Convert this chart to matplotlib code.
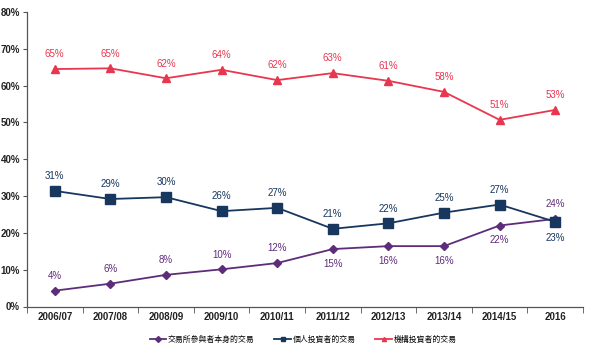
import matplotlib
matplotlib.use("Agg")
import matplotlib.pyplot as plt
from matplotlib import font_manager as fm
from matplotlib.ticker import FuncFormatter, FixedLocator

def find_font(name):
    for f in fm.findSystemFonts():
        if f.split("/")[-1] == name:
            return f
    return None

reg_path = find_font("LiberationSans-Regular.ttf")
bold_path = find_font("LiberationSans-Bold.ttf")

plt.rcParams['font.family'] = ['Liberation Sans', 'Noto Sans CJK TC', 'DejaVu Sans']

categories = ["2006/07", "2007/08", "2008/09", "2009/10", "2010/11",
              "2011/12", "2012/13", "2013/14", "2014/15", "2016"]
exchange = [4.3, 6.2, 8.6, 10.1, 11.8, 15.6, 16.4, 16.4, 22.0, 23.8]
exchange_labels = ["4%", "6%", "8%", "10%", "12%", "15%", "16%", "16%", "22%", "24%"]
retail = [31.4, 29.2, 29.7, 25.9, 26.8, 21.1, 22.6, 25.5, 27.7, 23.0]
retail_labels = ["31%", "29%", "30%", "26%", "27%", "21%", "22%", "25%", "27%", "23%"]
institutional = [64.5, 64.7, 62.0, 64.3, 61.5, 63.4, 61.3, 58.3, 50.7, 53.4]
inst_labels = ["65%", "65%", "62%", "64%", "62%", "63%", "61%", "58%", "51%", "53%"]
series_names = ["交易所參與者本身的交易", "個人投資者的交易", "機構投資者的交易"]

c_purple = "#5E2D79"
c_blue = "#17375E"
c_red = "#E8364F"

def fp(bold=False, size=7):
    path = bold_path if bold else reg_path
    if path:
        return fm.FontProperties(fname=path, size=size)
    return fm.FontProperties(family="DejaVu Sans", size=size, weight="bold" if bold else "normal")

fig = plt.figure(figsize=(5.9, 3.52), dpi=100)
ax = fig.add_axes([27/590, 1 - 306.5/352, (583-27)/590, (306.5-12)/352])

x = list(range(len(categories)))
l1, = ax.plot(x, exchange, color=c_purple, marker="D", markersize=4, lw=1.3)
l2, = ax.plot(x, retail, color=c_blue, marker="s", markersize=6.5, lw=1.3)
l3, = ax.plot(x, institutional, color=c_red, marker="^", markersize=6, lw=1.3)

fs = 7
for i in x:
    ax.annotate(inst_labels[i], (i, institutional[i]), xytext=(0, 7), textcoords="offset points",
                ha="center", va="bottom", color=c_red, fontproperties=fp(False, fs))
    if i == len(x) - 1:
        off, va = (0, -8), "top"
    else:
        off, va = (0, 7), "bottom"
    ax.annotate(retail_labels[i], (i, retail[i]), xytext=off, textcoords="offset points",
                ha="center", va=va, color=c_blue, fontproperties=fp(False, fs))
    if i <= 4 or i == len(x) - 1:
        off, va = (0, 7), "bottom"
    else:
        off, va = (0, -7), "top"
    ax.annotate(exchange_labels[i], (i, exchange[i]), xytext=off, textcoords="offset points",
                ha="center", va=va, color=c_purple, fontproperties=fp(False, fs))

ax.set_xlim(-0.5, len(x) - 0.5)
ax.set_ylim(0, 80)
ax.set_yticks(range(0, 81, 10))
ax.yaxis.set_major_formatter(FuncFormatter(lambda v, p: f"{int(v)}%"))
ax.set_xticks(x)
ax.set_xticklabels(categories)
ax.xaxis.set_minor_locator(FixedLocator([i + 0.5 for i in range(-1, len(x))]))
ax.tick_params(axis="x", which="major", length=0, pad=4)
ax.tick_params(axis="x", which="minor", length=4, color="#555555", direction="out")
ax.tick_params(axis="y", length=3, color="#555555", direction="out", pad=2)
for lab in ax.get_xticklabels() + ax.get_yticklabels():
    lab.set_fontproperties(fp(True, 7))
    lab.set_color("#222222")
for s in ["top", "right"]:
    ax.spines[s].set_visible(False)
for s in ["left", "bottom"]:
    ax.spines[s].set_color("#555555")
    ax.spines[s].set_linewidth(0.9)

fig.legend([l1, l2, l3], series_names, loc="center", bbox_to_anchor=(303/590, 1 - 339/352),
           ncol=3, frameon=False, handlelength=2.1, columnspacing=2.5,
           handletextpad=0.2, borderpad=0, borderaxespad=0,
           prop={"family": ["Noto Sans CJK TC", "DejaVu Sans"], "size": 5.7})
for h in fig.legends[0].legend_handles:
    h.set_markersize(3)

fig.savefig("out.png", dpi=100)
